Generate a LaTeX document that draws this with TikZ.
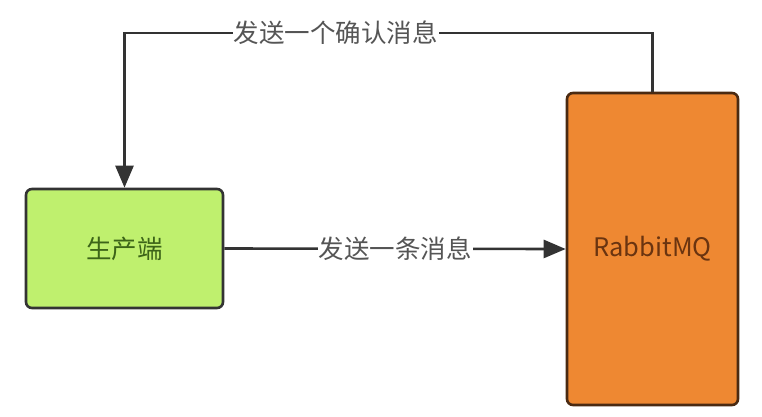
\documentclass[tikz,border=0pt]{standalone}
\usepackage{fontspec}
\setmainfont{Noto Sans CJK SC}
\usetikzlibrary{arrows.meta}
\definecolor{linegray}{HTML}{333333}
\definecolor{labelgray}{HTML}{555555}
\definecolor{prodgreen}{HTML}{BFF06E}
\definecolor{prodtext}{HTML}{3C6418}
\definecolor{mqorange}{HTML}{EE8832}
\definecolor{mqborder}{HTML}{4A2A12}
\definecolor{mqtext}{HTML}{6A3410}
\tikzset{
	box/.style={draw, line width=2.6pt, rounded corners=6pt, font=\fontsize{25.5}{30}\selectfont},
	msg/.style={draw=linegray, line width=2.6pt, -{Triangle[length=22pt, width=18pt]}},
	msglabel/.style={fill=white, text=labelgray, inner sep=1pt, font=\fontsize{25.5}{30}\selectfont}
}
\begin{document}
\begin{tikzpicture}[x=1pt, y=-1pt]
		%%%%% START %%%%%
		
		\useasboundingbox (0, 0) rectangle (762, 416);
		
		\node[box, draw=linegray, fill=prodgreen, text=prodtext, minimum width=197pt, minimum height=119pt] (producer) at (124.5, 248.5) {生产端};
		\node[box, draw=mqborder, fill=mqorange, text=mqtext, minimum width=171pt, minimum height=312pt] (mq) at (652.5, 249) {RabbitMQ};
		
		\coordinate (ackturn) at (mq.north |- 0, 33);
		
		\draw[msg] (producer.east) -- node[msglabel] {发送一条消息} (mq.west);
		\draw[msg] (mq.north) -- (ackturn) -| node[msglabel, pos=0.3] {发送一个确认消息} (producer.north);
		
		%%%%% END %%%%%
	\end{tikzpicture}
\end{document}
